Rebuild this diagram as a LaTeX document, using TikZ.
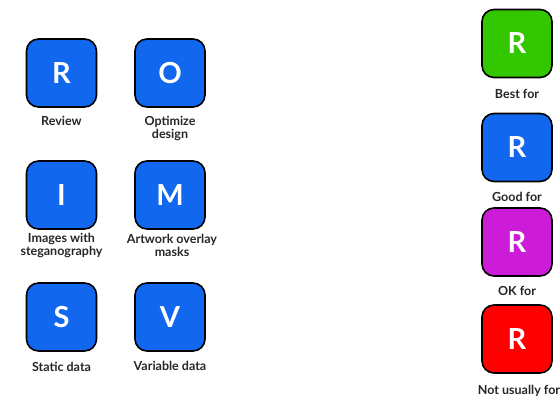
\documentclass[tikz,border=0pt]{standalone}
\usepackage{fontspec}
\setmainfont{Lato}
\begin{document}
\begin{tikzpicture}[x=1pt,y=-1pt,
  tile/.style={draw=black, line width=1.6pt, rounded corners=12pt,
    minimum width=70pt, minimum height=68pt, inner sep=0pt,
    text=white, font=\fontsize{29}{29}\selectfont\bfseries},
  caption/.style={align=center, text=black!85,
    font=\fontsize{12.5}{13}\selectfont\bfseries, inner sep=0pt}]
\definecolor{tileblue}{HTML}{1168EE}
\definecolor{tilegreen}{HTML}{33C700}
\definecolor{tilepurple}{HTML}{CC1CD8}
\definecolor{tilered}{HTML}{FF0000}
\useasboundingbox (0,0) rectangle (560,399);

% ROI/MSV grid
\node[tile, fill=tileblue] (r) at (61.5,73) {R};
\node[tile, fill=tileblue] (o) at (170,73) {O};
\node[tile, fill=tileblue] (i) at (61.5,195) {I};
\node[tile, fill=tileblue] (m) at (170,195) {M};
\node[tile, fill=tileblue] (s) at (61.5,317) {S};
\node[tile, fill=tileblue] (v) at (170,317) {V};

\node[caption] (rl) at (61.5,121) {Review};
\node[caption] (ol) at (170,128.5) {Optimize\\design};
\node[caption] (il) at (61.5,245.5) {Images with\\steganography};
\node[caption] (ml) at (172,245.5) {Artwork overlay\\masks};
\node[caption] (sl) at (61.5,367) {Static data};
\node[caption] (vl) at (170,366) {Variable data};

% suitability legend
\node[tile, fill=tilegreen] (best) at (517,43.5) {R};
\node[tile, fill=tileblue] (good) at (517,147.5) {R};
\node[tile, fill=tilepurple] (ok) at (517,242) {R};
\node[tile, fill=tilered] (notu) at (517,339) {R};

\node[caption] (bestl) at (517,93.5) {Best for};
\node[caption] (goodl) at (517,197) {Good for};
\node[caption] (okl) at (517,291) {OK for};
\node[caption] (notul) at (519,391) {Not usually for};
\end{tikzpicture}
\end{document}
